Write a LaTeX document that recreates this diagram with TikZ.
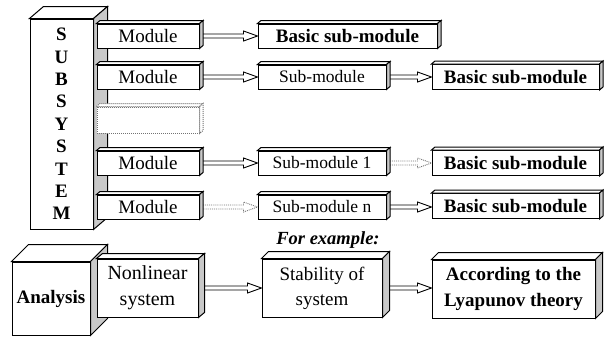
\documentclass[tikz,border=0pt]{standalone}
\usepackage{fontspec}
\setmainfont{Liberation Serif}
\usetikzlibrary{calc}
\usetikzlibrary{positioning}

\definecolor{sidegray}{RGB}{200,200,200}

% top and right faces of a box node: node, dx, dy
\newcommand{\boxfaces}[4][]{%
  \draw[line width=1pt, fill=white, #1] (#2.north west) -- ++(#3,-#4) -- ($(#2.north east)+(#3,-#4)$) -- (#2.north east) -- cycle;
  \draw[line width=1pt, fill=sidegray, #1] (#2.north east) -- ++(#3,-#4) -- ($(#2.south east)+(#3,-#4)$) -- (#2.south east) -- cycle;
}
% hollow double arrow from one node to the next
\newcommand{\blockarrow}[3][]{%
  \draw[arrowline, #1] let \p1=(#2.east), \p2=(#3.west) in
    (\x1,\y1+2pt) -- (\x2-14pt,\y1+2pt) -- (\x2-14pt,\y1+5pt) -- (\x2,\y1)
    -- (\x2-14pt,\y1-5pt) -- (\x2-14pt,\y1-2pt) -- (\x1,\y1-2pt) -- cycle;
}

\tikzset{
  box/.style={draw, fill=white, line width=1pt, inner sep=0pt, align=center,
    font=\fontsize{19}{25}\selectfont},
  modbox/.style={box, minimum width=102pt, minimum height=24pt},
  subbox/.style={box, minimum width=128pt, minimum height=24pt, font=\fontsize{17.5}{21}\selectfont},
  basicbox/.style={box, minimum width=167pt, minimum height=25pt, font=\fontsize{19}{22}\selectfont\bfseries},
  bigbox/.style={box, minimum height=58pt},
  dottedline/.style={densely dotted, draw=black!55},
  arrowline/.style={draw, fill=white, line width=0.9pt}
}

\begin{document}
\begin{tikzpicture}[x=1pt, y=-1pt]
\useasboundingbox (0,0) rectangle (604,338);

% subsystem column
\node[box, minimum width=63pt, minimum height=210pt, font=\fontsize{19}{22.4}\selectfont\bfseries] (subsys) at (61.5,124) {S\\U\\B\\S\\Y\\S\\T\\E\\M};
\boxfaces{subsys}{14}{12}

% modules
\node[modbox] (mod1) at (148,36) {Module};
\node[modbox] (mod2) at (148,77) {Module};
\node[modbox, dottedline, minimum height=26pt] (mod3) at (148,120) {};
\node[modbox] (mod4) at (148,163) {Module};
\node[modbox] (mod5) at (148,207) {Module};

% sub-modules
\node[subbox] (sub2) at (322,77) {Sub-module};
\node[subbox] (sub4) at (322,163) {Sub-module 1};
\node[subbox] (sub5) at (322,207) {Sub-module n};

\node[basicbox, minimum width=179pt, minimum height=24pt] (basic1) at (347.5,36) {Basic sub-module};
\node[basicbox] (basic2) at (515.5,77) {Basic sub-module};
\node[basicbox] (basic4) at (515.5,163) {Basic sub-module};
\node[basicbox] (basic5) at (515.5,206) {Basic sub-module};

% arrows
\blockarrow{mod1}{basic1}
\blockarrow{mod2}{sub2}
\blockarrow{sub2}{basic2}
\blockarrow{mod4}{sub4}
\blockarrow[dottedline]{sub4}{basic4}
\blockarrow[dottedline]{mod5}{sub5}
\blockarrow{sub5}{basic5}

\foreach \n in {mod1,mod2,mod4,mod5} {\boxfaces{\n}{3.5}{3}}
\boxfaces[dottedline, fill=white]{mod3}{3.5}{3}
\foreach \n in {sub2,sub4,sub5,basic1,basic2,basic4,basic5} {\boxfaces{\n}{3.5}{3}}

% example
\node[font=\fontsize{18.5}{22}\selectfont\bfseries\itshape] (example) at (328,240) {For example:};

\node[box, font=\fontsize{19}{25}\selectfont\bfseries, minimum width=78pt, minimum height=73pt] (analysis) at (51,298.5) {Analysis};
\boxfaces{analysis}{17}{17}

\node[bigbox, minimum width=101pt, font=\fontsize{20}{26}\selectfont] (nonlin) at (147.5,288) {Nonlinear\\system};
\node[bigbox, minimum width=120pt] (stab) at (322,288) {Stability of\\system};
\node[bigbox, minimum width=163pt, font=\fontsize{19}{26}\selectfont\bfseries] (lyap) at (513.5,289) {According to the\\Lyapunov theory};

\blockarrow{nonlin}{stab}
\blockarrow{stab}{lyap}

\boxfaces{nonlin}{6}{5}
\boxfaces{stab}{7}{7}
\boxfaces{lyap}{7}{7}
\end{tikzpicture}
\end{document}
